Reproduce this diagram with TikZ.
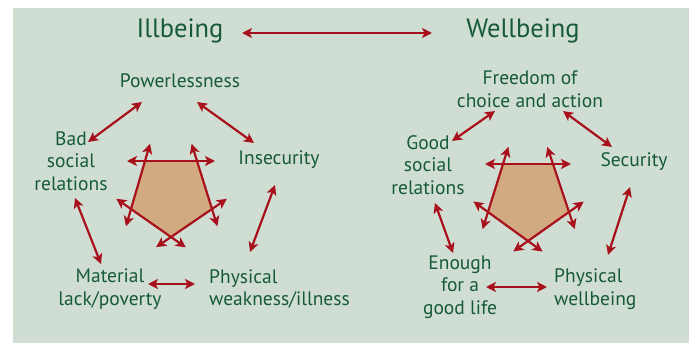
\documentclass[tikz,border=0pt]{standalone}
\usepackage{fontspec}
\setmainfont{PT Sans}
\usetikzlibrary{arrows.meta,calc}
\definecolor{bg}{RGB}{207,221,211}
\definecolor{txt}{RGB}{22,90,56}
\definecolor{arr}{RGB}{168,17,28}
\definecolor{pent}{RGB}{210,170,130}
\begin{document}
\begin{tikzpicture}[x=1pt,y=-1pt,
  lbl/.style={text=txt,font=\fontsize{19.5}{22.5}\selectfont,align=center,inner sep=0pt},
  lbll/.style={lbl,align=left},
  ttl/.style={text=txt,font=\fontsize{26.5}{30}\selectfont,inner sep=0pt},
  dbl/.style={draw=arr,line width=2.2pt,{Stealth[length=10pt,width=10pt,inset=2.5pt]}-{Stealth[length=10pt,width=10pt,inset=2.5pt]}}]
\useasboundingbox (0,0) rectangle (694,343);
\fill[bg] (13,8) rectangle (689,343);
% titles
\node[ttl] (ill) at (180,31) {Illbeing};
\node[ttl] (well) at (523,31) {Wellbeing};
\coordinate (t1) at (242,33);
\coordinate (t2) at (432,33);
\draw[dbl] (t1) -- (t2);
% left labels
\node[lbl] (pow) at (180,81) {Powerlessness};
\node[lbl] (bad) at (71,161) {Bad\\social\\relations};
\node[lbl] (ins) at (279,160) {Insecurity};
\node[lbl] (mat) at (110,289) {Material\\lack/poverty};
\node[lbll,anchor=west] (phy) at (209,289) {Physical\\weakness/illness};
% right labels
\node[lbl] (free) at (530,89) {Freedom of\\choice and action};
\node[lbl] (good) at (428,165) {Good\\social\\relations};
\node[lbl] (sec) at (634,162) {Security};
\node[lbl] (eno) at (460,287) {Enough\\for a\\good life};
\node[lbll,anchor=west] (pwb) at (554,289) {Physical\\wellbeing};
% left connectors
\coordinate (a1) at (142,102); \coordinate (a2) at (88,142);
\coordinate (b1) at (197,102); \coordinate (b2) at (254,143);
\coordinate (c1) at (275,185); \coordinate (c2) at (250,252);
\coordinate (d1) at (75,198);  \coordinate (d2) at (101,264);
\coordinate (e1) at (148,284); \coordinate (e2) at (195,284);
\foreach \p in {a,b,c,d,e} {\draw[dbl] (\p1) -- (\p2);}
% right connectors
\coordinate (f1) at (495,111); \coordinate (f2) at (452,141);
\coordinate (g1) at (563,111); \coordinate (g2) at (612,147);
\coordinate (h1) at (630,187); \coordinate (h2) at (608,255);
\coordinate (i1) at (435,203); \coordinate (i2) at (453,253);
\coordinate (j1) at (486,287); \coordinate (j2) at (547,287);
\foreach \p in {f,g,h,i,j} {\draw[dbl] (\p1) -- (\p2);}
% left pentagon
\coordinate (L1) at (145,161); \coordinate (L2) at (197,161);
\coordinate (L3) at (212,209); \coordinate (L4) at (171,237);
\coordinate (L5) at (131,209);
\fill[pent] (L1) -- (L2) -- (L3) -- (L4) -- (L5) -- cycle;
\draw[dbl] ($(L1)!-18pt!(L2)$) -- ($(L2)!-18pt!(L1)$);
\draw[dbl] ($(L2)!-18pt!(L3)$) -- ($(L3)!-18pt!(L2)$);
\draw[dbl] ($(L3)!-18pt!(L4)$) -- ($(L4)!-18pt!(L3)$);
\draw[dbl] ($(L4)!-18pt!(L5)$) -- ($(L5)!-18pt!(L4)$);
\draw[dbl] ($(L5)!-18pt!(L1)$) -- ($(L1)!-18pt!(L5)$);
% right pentagon
\coordinate (R1) at (503,164); \coordinate (R2) at (553,164);
\coordinate (R3) at (569,212); \coordinate (R4) at (528,241);
\coordinate (R5) at (488,212);
\fill[pent] (R1) -- (R2) -- (R3) -- (R4) -- (R5) -- cycle;
\draw[dbl] ($(R1)!-18pt!(R2)$) -- ($(R2)!-18pt!(R1)$);
\draw[dbl] ($(R2)!-18pt!(R3)$) -- ($(R3)!-18pt!(R2)$);
\draw[dbl] ($(R3)!-18pt!(R4)$) -- ($(R4)!-18pt!(R3)$);
\draw[dbl] ($(R4)!-18pt!(R5)$) -- ($(R5)!-18pt!(R4)$);
\draw[dbl] ($(R5)!-18pt!(R1)$) -- ($(R1)!-18pt!(R5)$);
\end{tikzpicture}
\end{document}
